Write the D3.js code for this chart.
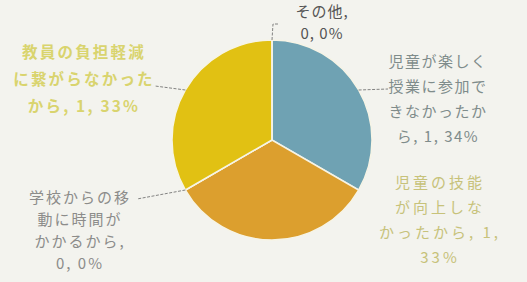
<!DOCTYPE html>
<html>
<head>
<meta charset="utf-8">
<script src="https://cdn.jsdelivr.net/npm/d3@7"></script>
<style>
  body { margin: 0; background: #f3f3ee; }
  svg { display: block; }
  text { font-family: "Noto Sans CJK JP", "Noto Sans", sans-serif; }
</style>
</head>
<body>
<svg id="chart" width="527" height="282"></svg>
<script>
// data
var categories = ["児童が楽しく授業に参加できなかったから", "児童の技能が向上しなかったから",
                  "学校からの移動に時間がかかるから", "教員の負担軽減に繋がらなかったから", "その他"];
var values = [1, 1, 0, 1, 0];
var percents = ["34%", "33%", "0%", "33%", "0%"];

var sliceColors = ["#6fa2b3", "#dc9f2e", "#dc9f2e", "#e1c113", "#e1c113"];

// label layout: how each label wraps, where it sits, leader end point
var labelStyle = [
  {wrap: [6, 6, 6], x: 438, y: 62, lh: 25, size: 15, ls: 1.5, w: 400, color: "#7f8c8b", leader: [[388, 89]]},
  {wrap: [5, 5, 9], x: 440, y: 183, lh: 25, size: 15, ls: 3, w: 400, color: "#c7c27a", leader: null},
  {wrap: [6, 5, 6], x: 80, y: 198, lh: 22, size: 15, ls: 2, w: 400, color: "#8c8c8a", leader: [[137, 199]]},
  {wrap: [7, 8], x: 84, y: 53, lh: 27, size: 15.5, ls: 2.2, w: 600, color: "#d9d46e", leader: [[155, 86]]},
  {wrap: [4], x: 322, y: 12, lh: 22, size: 15, ls: 1, w: 400, color: "#555555", leader: [[273, 24], [278, 24]]}
];

var svg = d3.select("#chart");
var cx = 272, cy = 140, radius = 100;

var pie = d3.pie().sort(null).value(function(d) { return d; });
var arcs = pie(values);
var arc = d3.arc().innerRadius(0).outerRadius(radius);

var g = svg.append("g").attr("transform", "translate(" + cx + "," + cy + ")");

g.selectAll("path.slice")
  .data(arcs)
  .enter().append("path")
    .attr("class", "slice")
    .attr("d", arc)
    .attr("fill", function(d, i) { return sliceColors[i]; })
    .attr("stroke", "#f6f4e6")
    .attr("stroke-width", 1.5);

function splitLabel(str, wrap) {
  var lines = [], pos = 0, chars = Array.from(str);
  wrap.forEach(function(n) {
    lines.push(chars.slice(pos, pos + n).join("").trim());
    pos += n;
  });
  lines.push(chars.slice(pos).join("").trim());
  return lines.filter(function(l) { return l.length; });
}

arcs.forEach(function(d, i) {
  var st = labelStyle[i];
  var mid = (d.startAngle + d.endAngle) / 2;
  var edge = [cx + Math.sin(mid) * radius, cy - Math.cos(mid) * radius];

  if (st.leader) {
    var pts = [edge].concat(st.leader);
    svg.append("path")
      .attr("d", d3.line()(pts))
      .attr("fill", "none")
      .attr("stroke", "#666")
      .attr("stroke-width", 0.8)
      .attr("stroke-dasharray", "3,1.5");
  }

  var txt = categories[i] + ", " + values[i] + ", " + percents[i];
  var lines = splitLabel(txt, st.wrap);
  var t = svg.append("text")
    .attr("text-anchor", "middle")
    .attr("fill", st.color)
    .attr("font-size", st.size)
    .attr("font-weight", st.w)
    .style("letter-spacing", st.ls + "px");
  lines.forEach(function(l, k) {
    t.append("tspan")
      .attr("x", st.x)
      .attr("y", st.y + k * st.lh)
      .attr("dy", "0.35em")
      .text(l);
  });
});
</script>
</body>
</html>
